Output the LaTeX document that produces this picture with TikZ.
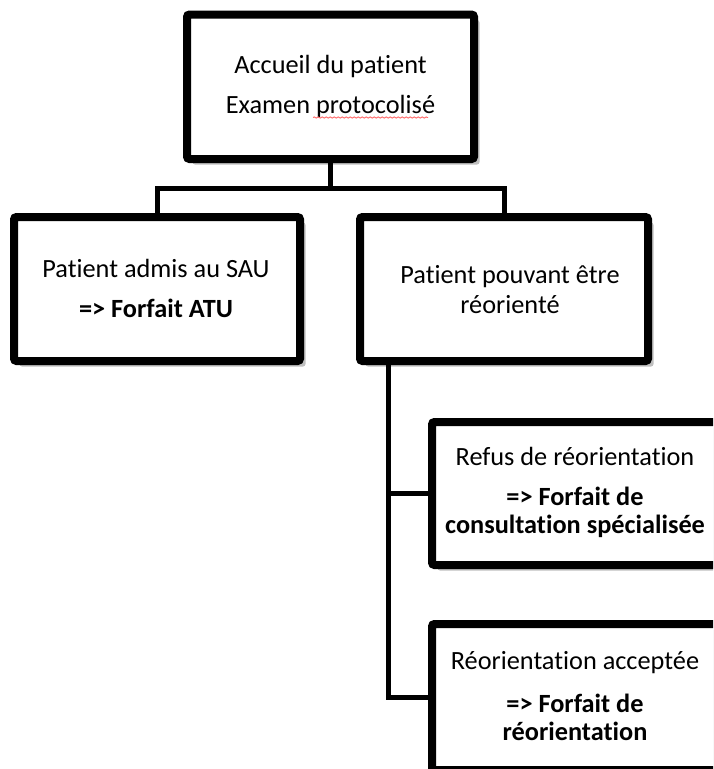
\documentclass[tikz,border=0pt]{standalone}
\usepackage{fontspec}
\setmainfont{Carlito}[Ligatures={NoCommon,NoRare,NoContextual}]
\usetikzlibrary{shadows,decorations.pathmorphing}
\tikzset{
  box/.style={draw=black, line width=8pt, rounded corners=2.5pt, fill=white,
    inner sep=0pt, outer sep=0pt, minimum width=286pt,
    drop shadow={shadow xshift=5.5pt, shadow yshift=-5.5pt, opacity=0.25, fill=black}},
  conn/.style={draw=black, line width=5pt, line join=miter},
  txt/.style={anchor=base, inner sep=0pt, font=\fontsize{26.3}{40}\selectfont},
  btxt/.style={txt, font=\fontsize{26.3}{40}\selectfont\bfseries},
}
\begin{document}
\begin{tikzpicture}[x=1pt, y=-1pt]
\useasboundingbox (0,0) rectangle (713,769);
\clip (0,0) rectangle (713,769);
% boxes
\node[box, minimum width=287pt, minimum height=144.5pt] (top) at (330.5,86.75) {};
\node[box, minimum height=144pt] (left) at (157,289) {};
\node[box, minimum width=288pt, minimum height=144pt] (right) at (504,289) {};
\node[box, minimum height=143pt] (refus) at (575,493.5) {};
\node[box, minimum height=146pt] (reo) at (575,697) {};
% connectors
\coordinate (j1) at (330.5,188);
\coordinate (rb) at (388,361);
\draw[conn] (top.south) -- (j1);
\draw[conn] (left.north) |- (j1) -| (right.north);
\draw[conn] (rb) |- (refus.west);
\draw[conn] (rb) |- (reo.west);
% texts
\node[txt] (t1) at (330.5,73) {Accueil du patient};
\node[txt] (t2) at (330.5,113) {Examen protocolisé};
\coordinate (sq1) at (313,117.5);
\coordinate (sq2) at (428,117.5);
\draw[red!60, line width=0.9pt, decorate, decoration={snake, amplitude=0.6pt, segment length=4pt}] (sq1) -- (sq2);
\node[txt] (l1) at (156,277) {Patient admis au SAU};
\node[btxt] (l2) at (156,317) {=> Forfait ATU};
\node[txt] (r1) at (510,283) {Patient pouvant être};
\node[txt] (r2) at (510,313) {réorienté};
\node[txt] (f1) at (575,465) {Refus de réorientation};
\node[btxt] (f2) at (575,505) {=> Forfait de};
\node[btxt] (f3) at (575,533) {consultation spécialisée};
\node[txt] (o1) at (575,669) {Réorientation acceptée};
\node[btxt] (o2) at (575,712) {=> Forfait de};
\node[btxt] (o3) at (575,740) {réorientation};
\end{tikzpicture}
\end{document}
